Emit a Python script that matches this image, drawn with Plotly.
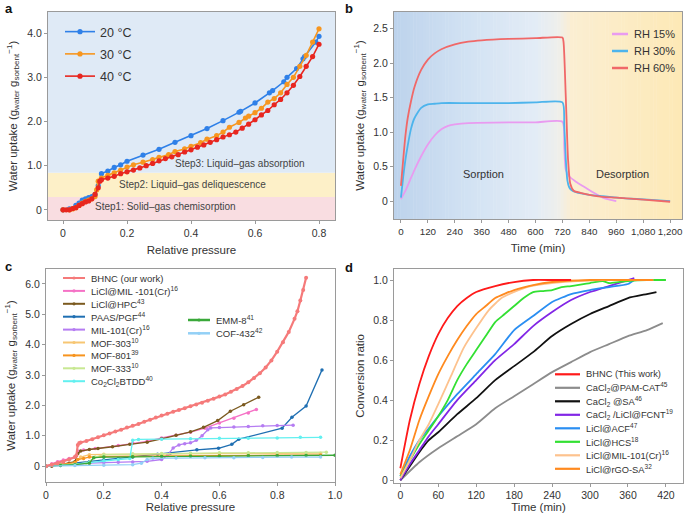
import plotly.graph_objects as go

W, H = 685, 513
FONT = "Liberation Sans, Arial, sans-serif"
TXT = "#333333"
AX = "#9a9a9a"

# ---------------- Panel a: isotherms ----------------
a_x20 = [0, 0.02, 0.04, 0.05, 0.06, 0.07, 0.08, 0.09, 0.1, 0.11, 0.12, 0.14, 0.16, 0.18, 0.2, 0.25,
         0.3, 0.35, 0.4, 0.45, 0.5, 0.55, 0.555, 0.6, 0.645, 0.655, 0.69, 0.7, 0.73, 0.75, 0.755, 0.79, 0.8]
a_y20 = [0, 0.02, 0.1, 0.15, 0.22, 0.25, 0.28, 0.3, 0.35, 0.55, 0.82, 0.88, 0.96, 1.02, 1.1, 1.24,
         1.37, 1.53, 1.68, 1.84, 2.02, 2.21, 2.23, 2.42, 2.65, 2.7, 2.9, 3.0, 3.2, 3.42, 3.47, 3.8, 3.93]
a_x30 = [0, 0.02, 0.03, 0.04, 0.05, 0.06, 0.07, 0.08, 0.09, 0.1, 0.105, 0.11, 0.12, 0.14, 0.16, 0.18,
         0.2, 0.22, 0.25, 0.28, 0.3, 0.33, 0.35, 0.38, 0.4, 0.43, 0.45, 0.48, 0.5, 0.52, 0.55, 0.57,
         0.58, 0.6, 0.62, 0.64, 0.66, 0.68, 0.7, 0.72, 0.74, 0.76, 0.78, 0.8]
a_y30 = [0, 0, 0.02, 0.05, 0.1, 0.15, 0.19, 0.22, 0.25, 0.3, 0.45, 0.65, 0.72, 0.78, 0.84, 0.9,
         0.97, 1.02, 1.08, 1.14, 1.19, 1.25, 1.32, 1.38, 1.44, 1.52, 1.6, 1.68, 1.76, 1.87, 1.98, 2.08,
         2.12, 2.2, 2.3, 2.44, 2.52, 2.65, 2.84, 3.0, 3.25, 3.5, 3.8, 4.1]
a_x40 = [0, 0.01, 0.02, 0.03, 0.04, 0.05, 0.06, 0.07, 0.08, 0.09, 0.1, 0.11, 0.115, 0.12, 0.14, 0.16,
         0.18, 0.2, 0.22, 0.24, 0.26, 0.28, 0.3, 0.32, 0.34, 0.36, 0.38, 0.4, 0.42, 0.44, 0.46, 0.48,
         0.5, 0.52, 0.54, 0.56, 0.58, 0.6, 0.62, 0.64, 0.66, 0.68, 0.7, 0.72, 0.74, 0.76, 0.78, 0.8]
a_y40 = [0, 0, 0, 0.03, 0.05, 0.1, 0.14, 0.18, 0.2, 0.25, 0.35, 0.5, 0.65, 0.68, 0.72, 0.76,
         0.82, 0.86, 0.9, 0.95, 1.0, 1.05, 1.11, 1.16, 1.2, 1.25, 1.31, 1.36, 1.42, 1.47, 1.53, 1.59,
         1.65, 1.7, 1.76, 1.85, 1.94, 2.04, 2.15, 2.25, 2.38, 2.5, 2.65, 2.82, 3.02, 3.25, 3.47, 3.75]
a_names = ["20 °C", "30 °C", "40 °C"]
a_colors = ["#2f80e8", "#f7961f", "#e8261f"]
a_bands = [0.29, 0.84]          # band boundaries (uptake)
a_band_text = ["Step1: Solid–gas chemisorption", "Step2: Liquid–gas deliquescence",
               "Step3: Liquid–gas absorption"]
a_band_text_x = [0.32, 0.405, 0.552]
a_band_text_y = [0.075, 0.58, 1.04]

# ---------------- Panel b: kinetics at RH ----------------
b_t60 = [0, 10, 20, 30, 45, 60, 90, 120, 150, 180, 240, 300, 360, 480, 600, 720, 725, 735, 745, 755,
         770, 800, 840, 900, 960, 1080, 1200]
b_y60 = [0.22, 0.6, 0.95, 1.2, 1.45, 1.65, 1.9, 2.05, 2.14, 2.2, 2.27, 2.31, 2.33, 2.35, 2.36, 2.37,
         2.3, 1.5, 0.6, 0.25, 0.15, 0.12, 0.09, 0.06, 0.05, 0.02, -0.01]
b_t30 = [0, 10, 20, 30, 45, 60, 90, 120, 150, 180, 300, 480, 600, 720, 728, 735, 742, 750, 760, 780,
         840, 900, 1000, 1100, 1200]
b_y30 = [0.05, 0.35, 0.6, 0.8, 1.05, 1.2, 1.35, 1.4, 1.41, 1.42, 1.42, 1.42, 1.43, 1.43, 1.1, 0.6,
         0.3, 0.2, 0.16, 0.13, 0.09, 0.07, 0.04, 0.02, 0.0]
b_t15 = [0, 20, 40, 60, 90, 120, 150, 180, 210, 240, 300, 480, 600, 720, 728, 735, 750, 780, 820,
         860, 900, 930, 960]
b_y15 = [0.03, 0.15, 0.3, 0.45, 0.65, 0.82, 0.95, 1.04, 1.09, 1.11, 1.13, 1.14, 1.14, 1.15, 0.8,
         0.45, 0.36, 0.28, 0.2, 0.12, 0.05, 0.02, 0.0]
b_names = ["RH 15%", "RH 30%", "RH 60%"]
b_colors = ["#e99bf0", "#4db4ec", "#f06868"]
b_ticks = [0, 120, 240, 360, 480, 600, 720, 840, 960, 1080, 1200]
b_ticktext = ["0", "120", "240", "360", "480", "600", "720", "840", "960", "1,080", "1,200"]

# ---------------- Panel c: comparison isotherms ----------------
c_names = ["BHNC (our work)", "LiCl@MIL -101(Cr)<sup>16</sup>", "LiCl@HPC<sup>43</sup>",
           "PAAS/PGF<sup>44</sup>", "MIL-101(Cr)<sup>16</sup>", "MOF-303<sup>10</sup>",
           "MOF-801<sup>39</sup>", "MOF-333<sup>10</sup>",
           "Co<sub>2</sub>Cl<sub>2</sub>BTDD<sup>40</sup>", "EMM-8<sup>41</sup>", "COF-432<sup>42</sup>"]
c_colors = ["#f57a7a", "#f572c6", "#7b5a1f", "#1f6fb2", "#b57cf2", "#f7c673", "#f7941e",
            "#c8e892", "#62f0f0", "#3aa83a", "#93d0f6"]
c_x = [
    [0, 0.02, 0.04, 0.06, 0.08, 0.1, 0.105, 0.11, 0.115, 0.12, 0.14, 0.16, 0.18, 0.2, 0.22, 0.24,
     0.26, 0.28, 0.3, 0.32, 0.34, 0.36, 0.38, 0.4, 0.42, 0.44, 0.46, 0.48, 0.5, 0.52, 0.54, 0.56,
     0.58, 0.6, 0.62, 0.64, 0.66, 0.68, 0.7, 0.72, 0.74, 0.76, 0.78, 0.8, 0.82, 0.84, 0.86, 0.87,
     0.88, 0.89, 0.9],
    [0, 0.02, 0.04, 0.06, 0.08, 0.1, 0.11, 0.13, 0.17, 0.25, 0.3, 0.35, 0.4, 0.45, 0.5, 0.55, 0.6,
     0.65, 0.7, 0.728],
    [0, 0.02, 0.05, 0.08, 0.1, 0.11, 0.12, 0.15, 0.18, 0.23, 0.29, 0.35, 0.4, 0.45, 0.5, 0.545,
     0.594, 0.638, 0.684, 0.736],
    [0, 0.05, 0.1, 0.15, 0.2, 0.25, 0.3, 0.386, 0.43, 0.522, 0.597, 0.643, 0.667, 0.817, 0.851, 0.9,
     0.955],
    [0, 0.05, 0.1, 0.15, 0.2, 0.25, 0.3, 0.35, 0.4, 0.42, 0.44, 0.46, 0.48, 0.5, 0.52, 0.54, 0.56,
     0.57, 0.6, 0.65, 0.7, 0.75, 0.8, 0.855],
    [0, 0.05, 0.1, 0.12, 0.15, 0.2, 0.3, 0.4, 0.5, 0.6, 0.7, 0.8, 0.9, 0.95],
    [0, 0.05, 0.1, 0.11, 0.13, 0.15, 0.2, 0.3, 0.4, 0.5, 0.6, 0.7, 0.8, 0.95],
    [0, 0.05, 0.1, 0.14, 0.17, 0.2, 0.3, 0.4, 0.5, 0.6, 0.7, 0.8, 0.9, 0.97],
    [0, 0.05, 0.1, 0.15, 0.2, 0.25, 0.29, 0.3, 0.32, 0.4, 0.5, 0.6, 0.7, 0.8, 0.88, 0.95],
    [0, 0.05, 0.1, 0.15, 0.165, 0.2, 0.3, 0.4, 0.5, 0.6, 0.7, 0.8, 0.9, 1.0],
    [0, 0.1, 0.2, 0.3, 0.33, 0.35, 0.37, 0.45, 0.55, 0.65, 0.75, 0.85, 0.95],
]
c_y = [
    [0, 0.05, 0.1, 0.15, 0.22, 0.3, 0.35, 0.7, 0.76, 0.78, 0.83, 0.89, 0.95, 1.02, 1.08, 1.14,
     1.2, 1.27, 1.33, 1.39, 1.46, 1.53, 1.6, 1.67, 1.73, 1.79, 1.85, 1.91, 1.97, 2.03, 2.09, 2.15,
     2.22, 2.29, 2.36, 2.45, 2.54, 2.64, 2.76, 2.9, 3.06, 3.25, 3.48, 3.77, 4.08, 4.42, 4.85, 5.1,
     5.45, 5.8, 6.2],
    [0, 0.08, 0.15, 0.2, 0.25, 0.3, 0.5, 0.53, 0.58, 0.68, 0.76, 0.82, 0.93, 1.02, 1.12, 1.25, 1.42,
     1.58, 1.75, 1.87],
    [0, 0, 0.05, 0.1, 0.15, 0.42, 0.5, 0.55, 0.58, 0.64, 0.72, 0.79, 0.9, 1.02, 1.13, 1.28,
     1.5, 1.81, 2.02, 2.27],
    [0, 0.05, 0.1, 0.15, 0.2, 0.25, 0.3, 0.39, 0.43, 0.54, 0.59, 0.72, 0.89, 1.25, 1.61, 1.98,
     3.17],
    [0, 0.02, 0.05, 0.1, 0.12, 0.13, 0.14, 0.16, 0.22, 0.35, 0.6, 0.7, 0.74, 0.77, 0.85, 1.0, 1.2,
     1.26, 1.27, 1.29, 1.31, 1.33, 1.34, 1.35],
    [0, 0.05, 0.1, 0.3, 0.38, 0.39, 0.4, 0.4, 0.41, 0.41, 0.42, 0.42, 0.42, 0.43],
    [0, 0.05, 0.12, 0.22, 0.25, 0.3, 0.32, 0.33, 0.34, 0.35, 0.35, 0.36, 0.36, 0.36],
    [0, 0.03, 0.06, 0.1, 0.3, 0.38, 0.4, 0.42, 0.43, 0.44, 0.44, 0.45, 0.45, 0.46],
    [0, 0.03, 0.06, 0.12, 0.18, 0.22, 0.25, 0.85, 0.88, 0.89, 0.9, 0.92, 0.92, 0.93, 0.95, 0.95],
    [0, 0.02, 0.05, 0.1, 0.28, 0.3, 0.31, 0.32, 0.33, 0.33, 0.34, 0.34, 0.35, 0.36],
    [0, 0.02, 0.03, 0.05, 0.1, 0.22, 0.26, 0.27, 0.28, 0.28, 0.29, 0.3, 0.3],
]

# ---------------- Panel d: conversion ratio ----------------
d_names = ["BHNC (This work)", "CaCl<sub>2</sub>@PAM-CAT<sup>45</sup>", "CaCl<sub>2</sub> @SA<sup>46</sup>",
           "CaCl<sub>2</sub> /LiCl@FCNT<sup>19</sup>", "LiCl@ACF<sup>47</sup>", "LiCl@HCS<sup>18</sup>",
           "LiCl@MIL-101(Cr)<sup>16</sup>", "LiCl@rGO-SA<sup>32</sup>"]
d_colors = ["#ff1a1a", "#8c8c8c", "#111111", "#8226e6", "#2a8ef2", "#33e033", "#fdc28e", "#ff8a1f"]
d_t = [
    [0, 15, 30, 45, 60, 75, 90, 105, 120, 150, 180, 210, 240, 270],
    [0, 30, 60, 90, 120, 150, 180, 210, 240, 270, 300, 330, 360, 390, 415],
    [0, 15, 30, 45, 60, 90, 120, 150, 180, 210, 240, 270, 300, 330, 360, 390, 405],
    [0, 15, 30, 45, 60, 90, 120, 150, 180, 210, 240, 270, 300, 330, 360, 370],
    [0, 15, 30, 45, 60, 90, 120, 150, 180, 210, 240, 270, 300, 330, 360, 370],
    [0, 15, 30, 45, 60, 75, 90, 105, 120, 135, 150, 165, 180, 195, 210, 225, 240, 255, 270, 300,
     320, 330, 345, 360, 390, 420],
    [0, 15, 30, 45, 60, 80, 100, 120, 140, 160, 180, 200, 240, 280, 320, 400],
    [0, 15, 30, 45, 60, 75, 90, 105, 120, 135, 150, 180, 210, 240, 300, 360, 400],
]
d_y = [
    [0.06, 0.3, 0.48, 0.62, 0.73, 0.81, 0.87, 0.91, 0.94, 0.97, 0.99, 1.0, 1.0, 1.0],
    [0, 0.09, 0.16, 0.22, 0.28, 0.36, 0.42, 0.48, 0.54, 0.59, 0.64, 0.68, 0.72, 0.75, 0.785],
    [0, 0.07, 0.14, 0.2, 0.24, 0.33, 0.41, 0.5, 0.57, 0.64, 0.72, 0.78, 0.83, 0.87, 0.91, 0.93, 0.94],
    [0, 0.08, 0.15, 0.22, 0.28, 0.4, 0.5, 0.6, 0.68, 0.77, 0.84, 0.9, 0.94, 0.97, 1.0, 1.01],
    [0.02, 0.12, 0.2, 0.26, 0.32, 0.43, 0.53, 0.63, 0.75, 0.82, 0.89, 0.93, 0.95, 0.965, 0.98, 1.0],
    [0.02, 0.1, 0.18, 0.25, 0.32, 0.4, 0.5, 0.58, 0.65, 0.72, 0.79, 0.83, 0.87, 0.91, 0.94, 0.945,
     0.95, 0.965, 0.97, 0.985, 0.995, 0.985, 0.99, 0.995, 1.0, 1.0],
    [0.01, 0.1, 0.2, 0.28, 0.38, 0.52, 0.66, 0.76, 0.85, 0.91, 0.94, 0.965, 0.985, 0.995, 1.0, 1.0],
    [0.03, 0.15, 0.3, 0.42, 0.53, 0.62, 0.7, 0.77, 0.83, 0.87, 0.91, 0.95, 0.975, 0.99, 1.0, 1.0, 1.0],
]

for xs, ys in list(zip(c_x, c_y)) + list(zip(d_t, d_y)):
    assert len(xs) == len(ys)

fig = go.Figure()

# ---- traces a ----
for xs, ys, nm, col in zip([a_x20, a_x30, a_x40], [a_y20, a_y30, a_y40], a_names, a_colors):
    fig.add_trace(go.Scatter(x=xs, y=ys, name=nm, mode="lines+markers", xaxis="x", yaxis="y",
                             line=dict(color=col, width=1.6), marker=dict(color=col, size=5.2),
                             legend="legend", legendgroup=nm))
# ---- traces b ----
for xs, ys, nm, col in zip([b_t15, b_t30, b_t60], [b_y15, b_y30, b_y60], b_names, b_colors):
    fig.add_trace(go.Scatter(x=xs, y=ys, name=nm, mode="lines", xaxis="x2", yaxis="y2",
                             line=dict(color=col, width=1.8, shape="spline", smoothing=0.6),
                             showlegend=False))
# ---- traces c (draw BHNC last) ----
order_c = list(range(1, len(c_names))) + [0]
for i in order_c:
    fig.add_trace(go.Scatter(x=c_x[i], y=c_y[i], name=c_names[i], mode="lines+markers",
                             xaxis="x3", yaxis="y3",
                             line=dict(color=c_colors[i], width=2.2 if i == 0 else 1.3),
                             marker=dict(color=c_colors[i], size=4 if i == 0 else 3.5),
                             showlegend=False))
# ---- traces d (draw BHNC last) ----
order_d = list(range(1, len(d_names))) + [0]
for i in order_d:
    fig.add_trace(go.Scatter(x=d_t[i], y=d_y[i], name=d_names[i], mode="lines",
                             xaxis="x4", yaxis="y4",
                             line=dict(color=d_colors[i], width=1.8, shape="spline", smoothing=0.5),
                             showlegend=False))

shapes = []
annotations = []

def px(x):
    return x / W

def py(y):
    return 1 - y / H

# ---- panel a background bands ----
band_cols = ["#f9dde1", "#fdf0c8", "#dfeaf6"]
band_edges = [-1, a_bands[0], a_bands[1], 10]
for k in range(3):
    shapes.append(dict(type="rect", xref="x domain", yref="y", x0=0, x1=1,
                       y0=band_edges[k], y1=band_edges[k + 1], fillcolor=band_cols[k],
                       line=dict(width=0), layer="below"))
for t, xx, yy in zip(a_band_text, a_band_text_x, a_band_text_y):
    annotations.append(dict(xref="x", yref="y", x=xx, y=yy, text=t, showarrow=False,
                            font=dict(size=10, color="#444444", family=FONT)))

# ---- panel b gradient background ----
stops = [(-31, (189, 211, 236)), (300, (210, 226, 243)), (600, (227, 236, 246)),
         (700, (238, 239, 236)), (760, (251, 238, 210)), (1253, (253, 233, 182))]

def grad(x):
    for (xa, ca), (xb, cb) in zip(stops[:-1], stops[1:]):
        if xa <= x <= xb:
            f = (x - xa) / (xb - xa)
            return "rgb(%d,%d,%d)" % tuple(round(ca[j] + f * (cb[j] - ca[j])) for j in range(3))
    return "rgb(%d,%d,%d)" % stops[-1][1]

N = 90
x_lo, x_hi = -31, 1253
for k in range(N):
    xa = x_lo + (x_hi - x_lo) * k / N
    xb = x_lo + (x_hi - x_lo) * (k + 1) / N
    shapes.append(dict(type="rect", xref="x2", yref="y2 domain", x0=xa, x1=min(xb + 2, x_hi),
                       y0=0, y1=1, fillcolor=grad((xa + xb) / 2), line=dict(width=0),
                       layer="below"))
annotations.append(dict(xref="x2", yref="y2", x=366, y=0.39, text="Sorption", showarrow=False,
                        font=dict(size=11, color="#333333", family=FONT)))
annotations.append(dict(xref="x2", yref="y2", x=986, y=0.39, text="Desorption", showarrow=False,
                        font=dict(size=11, color="#333333", family=FONT)))

# ---- custom legends ----
def add_legend(names, colors, x0, x1, xt, y0, dy, fs, lw, dots=False):
    for k, (nm, col) in enumerate(zip(names, colors)):
        yy = y0 + k * dy
        shapes.append(dict(type="line", xref="paper", yref="paper", x0=px(x0), x1=px(x1),
                           y0=py(yy), y1=py(yy), line=dict(color=col, width=lw)))
        if dots:
            xm = (x0 + x1) / 2
            shapes.append(dict(type="circle", xref="paper", yref="paper",
                               x0=px(xm - 1.6), x1=px(xm + 1.6), y0=py(yy + 1.6), y1=py(yy - 1.6),
                               fillcolor=col, line=dict(width=0)))
        annotations.append(dict(xref="paper", yref="paper", x=px(xt), y=py(yy), text=nm,
                                showarrow=False, xanchor="left", yanchor="middle",
                                font=dict(size=fs, color="#333333", family=FONT)))

add_legend(b_names, b_colors, 612, 628, 632, 34, 17, 11, 2.5)
add_legend(c_names[:9], c_colors[:9], 63, 85, 89, 278, 12.9, 9.5, 2, dots=True)
add_legend(c_names[9:], c_colors[9:], 188, 210, 214, 320, 13.3, 9.5, 2.5, dots=True)
add_legend(d_names, d_colors, 555, 580, 584, 374.3, 13.5, 9.3, 2.2)

# ---- panel letters ----
for lt, xx, yy in [("a", 3, 8), ("b", 343, 8), ("c", 3, 266), ("d", 343, 267)]:
    annotations.append(dict(xref="paper", yref="paper", x=px(xx), y=py(yy), text="<b>%s</b>" % lt,
                            showarrow=False, xanchor="left", yanchor="middle",
                            font=dict(size=13, color="#111111", family=FONT)))

ytitle = "Water uptake (g<sub>water</sub> g<sub>sorbent</sub><sup>−1</sup>)"

def axis(domain, rng, tickvals, ticktext, title, anchor, standoff, tfs=10.5):
    return dict(domain=domain, range=rng, tickvals=tickvals, ticktext=ticktext,
                showline=True, linecolor=AX, linewidth=1, mirror=True, showgrid=False,
                zeroline=False, ticks="outside", ticklen=3, tickcolor=AX, tickangle=0,
                tickfont=dict(size=tfs, color=TXT, family=FONT), anchor=anchor,
                automargin=False,
                title=dict(text=title, font=dict(size=11.5, color=TXT, family=FONT),
                           standoff=standoff))

layout = dict(
    width=W, height=H, margin=dict(l=0, r=0, t=0, b=0), paper_bgcolor="white",
    plot_bgcolor="white", font=dict(family=FONT, color=TXT),
    xaxis=axis([px(48), px(335)], [-0.047, 0.85], [0, 0.2, 0.4, 0.6, 0.8],
               ["0", "0.2", "0.4", "0.6", "0.8"], "Relative pressure", "y", 8),
    yaxis=axis([py(220), py(12)], [-0.23, 4.48], [0, 1, 2, 3, 4],
               ["0", "1.0", "2.0", "3.0", "4.0"], ytitle, "x", 7),
    xaxis2=axis([px(394), px(682)], [-31, 1253], b_ticks, b_ticktext, "Time (min)", "y2", 8, 9.8),
    yaxis2=axis([py(219), py(12)], [-0.26, 2.74], [0, 0.5, 1, 1.5, 2, 2.5],
                ["0", "0.5", "1.0", "1.5", "2.0", "2.5"], ytitle, "x2", 6),
    xaxis3=axis([px(46), px(335)], [0, 1.0], [0, 0.2, 0.4, 0.6, 0.8, 1.0],
                ["0", "0.2", "0.4", "0.6", "0.8", "1.0"], "Relative pressure", "y3", 8),
    yaxis3=axis([py(482), py(269)], [-0.52, 6.49], [0, 1, 2, 3, 4, 5, 6],
                ["0", "1.0", "2.0", "3.0", "4.0", "5.0", "6.0"], ytitle, "x3", 7),
    xaxis4=axis([px(394), px(683)], [-10, 447], [0, 60, 120, 180, 240, 300, 360, 420],
                ["0", "60", "120", "180", "240", "300", "360", "420"], "Time (min)", "y4", 8),
    yaxis4=axis([py(482.7), py(269)], [-0.012, 1.055], [0, 0.2, 0.4, 0.6, 0.8, 1.0],
                ["0", "0.2", "0.4", "0.6", "0.8", "1.0"], "Conversion ratio", "x4", 6),
    legend=dict(x=px(60), y=py(17), xanchor="left", yanchor="top", bgcolor="rgba(0,0,0,0)",
                font=dict(size=12.5, color=TXT, family=FONT), tracegroupgap=3),
    shapes=shapes, annotations=annotations, showlegend=True, hovermode=False,
)
fig.update_layout(**layout)
fig.write_html("out.html", config={"displayModeBar": False},
               post_script="document.body.style.margin='0px';")
